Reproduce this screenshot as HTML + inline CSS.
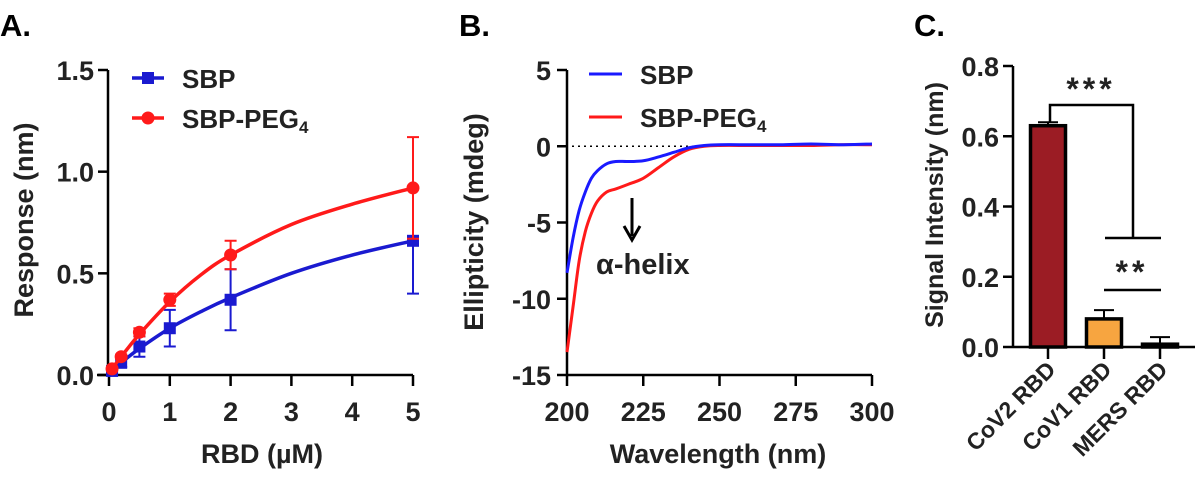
<!DOCTYPE html>
<html><head><meta charset="utf-8"><style>
html,body{margin:0;padding:0;background:#fff;}
svg{display:block;font-family:"Liberation Sans",Arial,sans-serif;font-weight:bold;}
</style></head><body>
<svg id="fig" width="1200" height="485" viewBox="0 0 1200 485" xmlns="http://www.w3.org/2000/svg">
<g id="A"></g>
<g id="B"></g>
<g id="C"></g>
</svg>
<script>
// Panel A data
const aX = [0.05, 0.2, 0.5, 1, 2, 5];
const aSBP = [0.02, 0.06, 0.14, 0.23, 0.37, 0.66];
const aSBPerr = [0.01, 0.02, 0.05, 0.09, 0.15, 0.26];
const aPEG = [0.03, 0.09, 0.21, 0.37, 0.59, 0.92];
const aPEGerr = [0.01, 0.01, 0.02, 0.03, 0.07, 0.25];
// fitted curves
const aFitX = [0.05, 0.2, 0.5, 1, 1.5, 2, 3, 4, 5];
const aFitSBP = [0.02, 0.06, 0.13, 0.23, 0.31, 0.38, 0.50, 0.59, 0.66];
const aFitPEG = [0.03, 0.09, 0.2, 0.36, 0.49, 0.59, 0.74, 0.84, 0.92];
const aXTicks = [0, 1, 2, 3, 4, 5];
const aYTicks = [0, 0.5, 1.0, 1.5];
// Panel B data
const bWl = [200, 202, 204, 206, 208, 210, 213, 216, 220, 225, 230, 235, 240, 245, 250, 260, 270, 280, 290, 300];
const bSBP = [-8.3, -6, -4.2, -3, -2.1, -1.6, -1.15, -1.0, -1.0, -0.95, -0.7, -0.4, -0.1, 0.05, 0.1, 0.1, 0.1, 0.15, 0.1, 0.15];
const bPEG = [-13.5, -10.5, -7.5, -5.6, -4.4, -3.6, -3.0, -2.8, -2.5, -2.1, -1.4, -0.7, -0.2, 0, 0.05, 0.05, 0.05, 0.05, 0.1, 0.1];
const bXTicks = [200, 225, 250, 275, 300];
const bYTicks = [5, 0, -5, -10, -15];
// Panel C data
const cCats = ["CoV2 RBD", "CoV1 RBD", "MERS RBD"];
const cVals = [0.63, 0.08, 0.008];
const cErr = [0.01, 0.025, 0.02];
const cColors = ["#9b1c24", "#f7a540", "#f7a540"];
const cYTicks = [0.0, 0.2, 0.4, 0.6, 0.8];

const NS = "http://www.w3.org/2000/svg";
function mk(parent, tag, attrs, text){
  const e = document.createElementNS(NS, tag);
  for (const k in attrs) e.setAttribute(k, attrs[k]);
  if (text !== undefined) e.textContent = text;
  parent.appendChild(e); return e;
}
function smooth(pts){
  let d = "M" + pts[0][0] + "," + pts[0][1];
  for (let i = 0; i < pts.length - 1; i++){
    const p0 = pts[Math.max(0,i-1)], p1 = pts[i], p2 = pts[i+1], p3 = pts[Math.min(pts.length-1,i+2)];
    const c1x = p1[0] + (p2[0]-p0[0])/6, c1y = p1[1] + (p2[1]-p0[1])/6;
    const c2x = p2[0] - (p3[0]-p1[0])/6, c2y = p2[1] - (p3[1]-p1[1])/6;
    d += " C" + c1x + "," + c1y + " " + c2x + "," + c2y + " " + p2[0] + "," + p2[1];
  }
  return d;
}
const FS = 27;

// ===== Panel A =====
const A = document.getElementById("A");
const axA = v => 109 + v * (413 - 109) / 5;
const ayA = v => 375 - v * (375 - 70) / 1.5;
let t = mk(A, "text", {x: 0, y: 36, "font-size": 31}, "A.");
 
let el = mk(A, "path", {d: `M97,375 H413 M108,375 V70`, stroke: "#000", "stroke-width": 2.5, fill: "none"});
 
aYTicks.forEach(v => {
  mk(A, "line", {x1: 98, x2: 108, y1: ayA(v), y2: ayA(v), stroke: "#000", "stroke-width": 2.5});
  const tx = mk(A, "text", {x: 94, y: ayA(v) + 10, "font-size": FS, "text-anchor": "end", fill: "#222"}, v.toFixed(1));
   
});
aXTicks.forEach(v => {
  mk(A, "line", {x1: axA(v), x2: axA(v), y1: 375, y2: 386, stroke: "#000", "stroke-width": 2.5});
  const tx = mk(A, "text", {x: axA(v), y: 421, "font-size": FS, "text-anchor": "middle", fill: "#222"}, v);
   
});
t = mk(A, "text", {x: 262, y: 463, "font-size": FS, "text-anchor": "middle", fill: "#222"}, "RBD (µM)");
 
t = mk(A, "text", {x: 0, y: 0, "font-size": FS, "text-anchor": "middle", fill: "#222", transform: "translate(33,220) rotate(-90)"}, "Response (nm)");
 
function seriesA(vals, errs, fit, color, square, name){
  const g = mk(A, "g", {});
   
  vals.forEach((v, i) => {
    const x = axA(aX[i]), y1 = ayA(v + errs[i]), y2 = ayA(v - errs[i]);
    mk(g, "path", {d: `M${x},${y1} V${y2} M${x-6},${y1} H${x+6} M${x-6},${y2} H${x+6}`, stroke: color, "stroke-width": 2, fill: "none"});
  });
  mk(g, "path", {d: smooth(fit.map((v, i) => [axA(aFitX[i]), ayA(v)])), stroke: color, "stroke-width": 3.5, fill: "none"});
  vals.forEach((v, i) => {
    const x = axA(aX[i]), y = ayA(v);
    const m = square ? mk(g, "rect", {x: x-6, y: y-6, width: 12, height: 12, fill: color})
                     : mk(g, "circle", {cx: x, cy: y, r: 6.5, fill: color});
     
  });
}
seriesA(aSBP, aSBPerr, aFitSBP, "#1a1ad0", true, "series-sbp-a");
seriesA(aPEG, aPEGerr, aFitPEG, "#ff1a1a", false, "series-sbp-peg4-a");
let lg = mk(A, "g", {});  
mk(lg, "line", {x1: 132, x2: 164, y1: 78, y2: 78, stroke: "#1a1ad0", "stroke-width": 3.5});
mk(lg, "rect", {x: 142, y: 72, width: 12, height: 12, fill: "#1a1ad0"});
mk(lg, "text", {x: 182, y: 88, "font-size": 26, fill: "#222"}, "SBP");
mk(lg, "line", {x1: 132, x2: 164, y1: 118, y2: 118, stroke: "#ff1a1a", "stroke-width": 3.5});
mk(lg, "circle", {cx: 148, cy: 118, r: 6.5, fill: "#ff1a1a"});
t = mk(lg, "text", {x: 182, y: 128, "font-size": 26, fill: "#222"}, "SBP-PEG");
mk(t, "tspan", {"font-size": 17, dy: 5}, "4");

// ===== Panel B =====
const B = document.getElementById("B");
const axB = v => 567 + (v - 200) * (872 - 567) / 100;
const ayB = v => 375 - (v + 15) * (375 - 70) / 20;
t = mk(B, "text", {x: 459, y: 36, "font-size": 31}, "B.");
 
el = mk(B, "path", {d: `M567,375 H872 M567,375 V70`, stroke: "#000", "stroke-width": 2.5, fill: "none"});
 
bYTicks.forEach(v => {
  mk(B, "line", {x1: 557, x2: 567, y1: ayB(v), y2: ayB(v), stroke: "#000", "stroke-width": 2.5});
  const tx = mk(B, "text", {x: 551, y: ayB(v) + 10, "font-size": FS, "text-anchor": "end", fill: "#222"}, v);
   
});
bXTicks.forEach(v => {
  mk(B, "line", {x1: axB(v), x2: axB(v), y1: 375, y2: 386, stroke: "#000", "stroke-width": 2.5});
  const tx = mk(B, "text", {x: axB(v), y: 421, "font-size": FS, "text-anchor": "middle", fill: "#222"}, v);
   
});
t = mk(B, "text", {x: 718, y: 463, "font-size": FS, "text-anchor": "middle", fill: "#222"}, "Wavelength (nm)");
 
t = mk(B, "text", {x: 0, y: 0, "font-size": FS, "text-anchor": "middle", fill: "#222", transform: "translate(483,222) rotate(-90)"}, "Ellipticity (mdeg)");
 
el = mk(B, "line", {x1: 572, x2: 700, y1: ayB(0), y2: ayB(0), stroke: "#000", "stroke-width": 1.5, "stroke-dasharray": "2,4"});
 
el = mk(B, "path", {d: smooth(bWl.map((w, i) => [axB(w), ayB(bPEG[i])])), stroke: "#ff1a1a", "stroke-width": 3, fill: "none"});
 
el = mk(B, "path", {d: smooth(bWl.map((w, i) => [axB(w), ayB(bSBP[i])])), stroke: "#1a1aff", "stroke-width": 3, fill: "none"});
 
lg = mk(B, "g", {});  
mk(lg, "line", {x1: 589, x2: 622, y1: 74, y2: 74, stroke: "#1a1aff", "stroke-width": 3});
mk(lg, "text", {x: 640, y: 84, "font-size": 26, fill: "#222"}, "SBP");
mk(lg, "line", {x1: 589, x2: 622, y1: 117, y2: 117, stroke: "#ff1a1a", "stroke-width": 3});
t = mk(lg, "text", {x: 640, y: 127, "font-size": 26, fill: "#222"}, "SBP-PEG");
mk(t, "tspan", {"font-size": 17, dy: 5}, "4");
el = mk(B, "path", {d: "M632,198 V236 M624,226 L632,240 L640,226", stroke: "#000", "stroke-width": 3, fill: "none"});
 
t = mk(B, "text", {x: 596, y: 274, "font-size": 29, fill: "#222"}, "α-helix");
 

// ===== Panel C =====
const C = document.getElementById("C");
const ayC = v => 347 - v * (347 - 66) / 0.8;
const cx0 = 1048, cStep = 56, bw = 35;
const axC = i => cx0 + i * cStep;
t = mk(C, "text", {x: 914, y: 36, "font-size": 31}, "C.");
 
cYTicks.forEach(v => {
  mk(C, "line", {x1: 1003, x2: 1013, y1: ayC(v), y2: ayC(v), stroke: "#000", "stroke-width": 2.5});
  const tx = mk(C, "text", {x: 999, y: ayC(v) + 10, "font-size": FS, "text-anchor": "end", fill: "#222"}, v.toFixed(1));
   
});
t = mk(C, "text", {x: 0, y: 0, "font-size": 25, "text-anchor": "middle", fill: "#222", transform: "translate(943,205) rotate(-90)"}, "Signal Intensity (nm)");
 
cVals.forEach((v, i) => {
  const x = axC(i);
  const top = ayC(v + cErr[i]);
  mk(C, "path", {d: `M${x},${ayC(v)} V${top} M${x-10},${top} H${x+10}`, stroke: "#000", "stroke-width": 2, fill: "none"});
  const r = mk(C, "rect", {x: x - bw/2, y: ayC(v), width: bw, height: 347 - ayC(v), fill: cColors[i], stroke: "#000", "stroke-width": 3.5});
   
  mk(C, "line", {x1: x, x2: x, y1: 347, y2: 359, stroke: "#000", "stroke-width": 2.5});
  const tx = mk(C, "text", {x: 0, y: 0, "font-size": 23, "text-anchor": "end", fill: "#222", transform: `translate(${x+9},${371}) rotate(-45)`}, cCats[i]);
   
});
el = mk(C, "path", {d: `M1013,347 H1195 M1013,347 V66`, stroke: "#000", "stroke-width": 2.5, fill: "none"});
 
el = mk(C, "path", {d: "M1050,122 V105 H1133 V238 M1105,238 H1161 M1104,290 H1161", stroke: "#000", "stroke-width": 2.5, fill: "none"});
 
t = mk(C, "text", {x: 1091, y: 100, "font-size": 32, "text-anchor": "middle", fill: "#222", "letter-spacing": 4}, "***");
 
t = mk(C, "text", {x: 1132, y: 283, "font-size": 32, "text-anchor": "middle", fill: "#222", "letter-spacing": 4}, "**");
 
</script>
</body></html>
